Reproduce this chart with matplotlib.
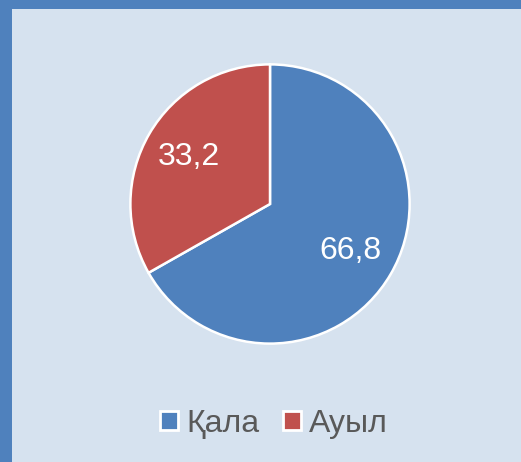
import matplotlib.pyplot as plt
from matplotlib.patches import Patch

# Daten
kategorien = ['Қала', 'Ауыл']
werte = [66.8, 33.2]
farben = ['#4f81bd', '#c0504d']

W, H = 521, 462
fig = plt.figure(figsize=(W / 100, H / 100), dpi=100)
fig.patch.set_facecolor('#4f81bd')

# heller Innenbereich (Rahmen links und oben)
bg = fig.add_axes([12 / W, 0, (W - 12) / W, (H - 9) / H])
bg.set_facecolor('#d6e2ef')
bg.set_xticks([])
bg.set_yticks([])
for s in bg.spines.values():
    s.set_visible(False)

# Kreisdiagramm
cx, cy, r = 270, 204, 141
ax = fig.add_axes([(cx - r) / W, (H - cy - r) / H, 2 * r / W, 2 * r / H])
ax.set_facecolor('none')
wedges, texts, autotexts = ax.pie(
    werte, colors=farben, startangle=90, counterclock=False,
    autopct=lambda p: f'{p:.1f}'.replace('.', ','), pctdistance=0.67,
    wedgeprops=dict(edgecolor='white', linewidth=1.8),
    textprops=dict(color='white', fontsize=23, family='Liberation Sans'))
ax.set_xlim(-1.01, 1.01)
ax.set_ylim(-1.01, 1.01)
ax.set_aspect('equal')

# Legende
handles = [Patch(facecolor=c, edgecolor='white', linewidth=2) for c in farben]
fig.legend(handles, kategorien, loc='center', bbox_to_anchor=(274 / W, 1 - 424 / H),
           ncol=2, frameon=False, prop=dict(family='Liberation Sans', size=23),
           labelcolor='#595959', handlelength=0.55, handleheight=0.55,
           handletextpad=0.25, columnspacing=0.75)

fig.savefig('out.png', dpi=100)
